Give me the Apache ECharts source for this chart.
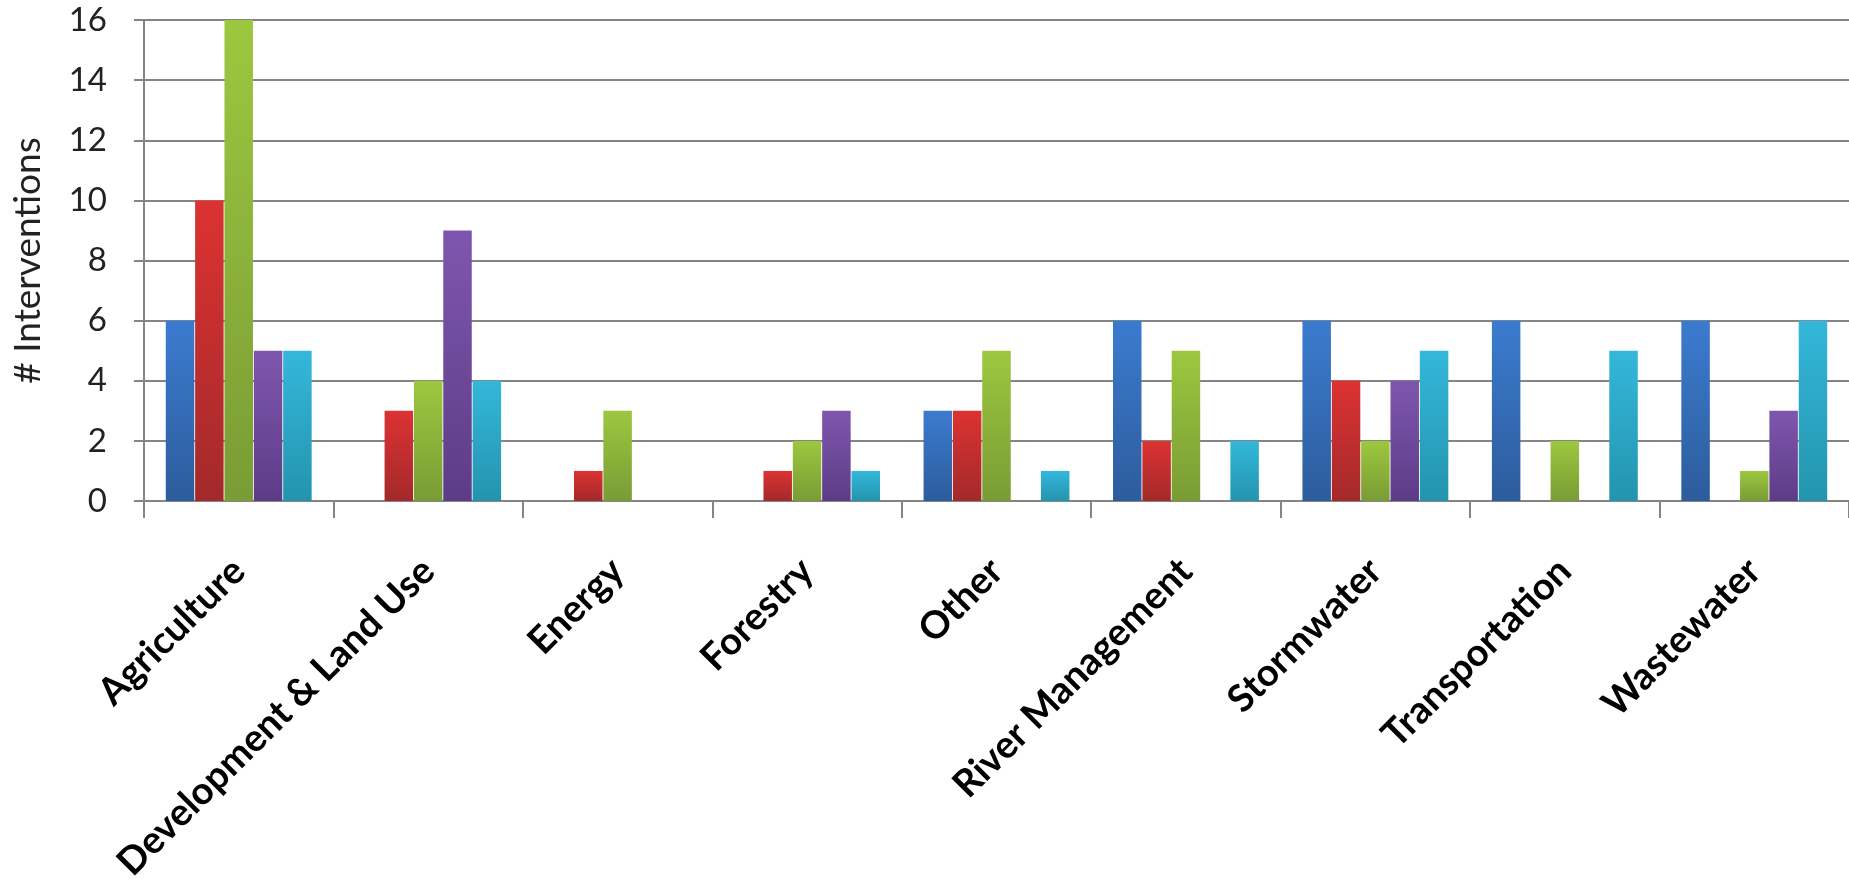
<!DOCTYPE html>
<html>
<head>
<meta charset="utf-8">
<title>Interventions by sector</title>
<script src="https://cdn.jsdelivr.net/npm/echarts@6/dist/echarts.min.js"></script>
<style>
  html, body { margin: 0; padding: 0; background: #fff; }
  #main { width: 1849px; height: 896px; }
</style>
</head>
<body>
<div id="main"></div>
<script>
// categories on the x axis
const sectors = [
  "Agriculture", "Development & Land Use", "Energy", "Forestry", "Other",
  "River Management", "Stormwater", "Transportation", "Wastewater"
];

// five unnamed series (no legend in the original)
const blueVals = [6, 0, 0, 0, 3, 6, 6, 6, 6];
const redVals = [10, 3, 1, 1, 3, 2, 4, 0, 0];
const greenVals = [16, 4, 3, 2, 5, 5, 2, 2, 1];
const purpleVals = [5, 9, 0, 3, 0, 0, 4, 0, 3];
const cyanVals = [5, 4, 0, 1, 1, 2, 5, 5, 6];

const yTicks = [0, 2, 4, 6, 8, 10, 12, 14, 16];

const chart = echarts.init(document.getElementById("main"));

// bar fill: lighter at the top, darker at the bottom
function grad(top, bottom) {
  return new echarts.graphic.LinearGradient(0, 0, 0, 1, [
    { offset: 0, color: top },
    { offset: 1, color: bottom },
  ]);
}

const seriesList = [
  { name: "Series 1", data: blueVals, color: grad("#3b7bcf", "#2d5c9c") },
  { name: "Series 2", data: redVals, color: grad("#dc3232", "#a4292a") },
  { name: "Series 3", data: greenVals, color: grad("#9dc73f", "#799c35") },
  { name: "Series 4", data: purpleVals, color: grad("#7f56ae", "#5d3c86") },
  { name: "Series 5", data: cyanVals, color: grad("#34b7da", "#2394ae") },
];

const font = "Lato, 'Open Sans', sans-serif";

const option = {
  animation: false,
  backgroundColor: "#fff",
  grid: {
    left: 144,
    top: 20,
    width: 1710,
    height: 481,
  },
  xAxis: {
    type: "category",
    data: sectors,
    axisLine: { lineStyle: { color: "#858585", width: 2 } },
    axisTick: { show: true, length: 17, lineStyle: { color: "#858585", width: 2 } },
    axisLabel: {
      rotate: 45,
      interval: 0,
      margin: 64,
      color: "#000",
      fontFamily: font,
      fontWeight: "bold",
      fontSize: 38,
    },
  },
  yAxis: {
    type: "value",
    min: 0,
    max: 16,
    interval: 2,
    name: "# Interventions",
    nameLocation: "middle",
    nameGap: 97,
    nameTextStyle: { color: "#222", fontFamily: font, fontSize: 37 },
    axisLine: { show: true, lineStyle: { color: "#858585", width: 2 } },
    axisTick: { show: true, length: 10, lineStyle: { color: "#858585", width: 2 } },
    splitLine: { lineStyle: { color: "#858585", width: 2 } },
    axisLabel: {
      margin: 37,
      color: "#222",
      fontFamily: font,
      fontSize: 33,
      formatter: (v) => (yTicks.includes(v) ? String(v) : ""),
    },
  },
  series: seriesList.map((s) => ({
    name: s.name,
    type: "bar",
    data: s.data,
    barGap: "3%",
    barCategoryGap: "23%",
    itemStyle: { color: s.color },
  })),
};

chart.setOption(option);
window.addEventListener("resize", () => chart.resize());
</script>
</body>
</html>
